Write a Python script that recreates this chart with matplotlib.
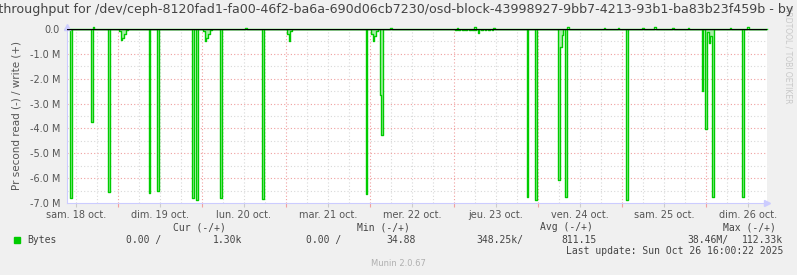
import matplotlib
matplotlib.use("Agg")
import matplotlib.pyplot as plt
import numpy as np

# days counted from sam. 18 oct. 00:00
read_days = [0.437, 0.685, 0.887,
             1.030, 1.040, 1.060, 1.077, 1.095,
             1.369, 1.473, 1.905, 1.929,
             2.024, 2.042, 2.060, 2.077, 2.095,
             2.238, 2.726,
             3.017, 3.036, 3.054, 3.071,
             3.961, 4.024, 4.042, 4.060, 4.083, 4.119, 4.143,
             5.02, 5.06, 5.10, 5.14, 5.18, 5.22, 5.26, 5.289, 5.33, 5.37, 5.42, 5.46,
             5.877, 5.980, 6.243, 6.264, 6.286, 6.330,
             7.063, 7.968, 7.990, 8.02, 8.04, 8.06, 8.08, 8.437]
read_mb = [-6.78, -3.73, -6.57,
           -0.10, -0.45, -0.35, -0.20, -0.05,
           -6.61, -6.50, -6.78, -6.88,
           -0.10, -0.50, -0.35, -0.20, -0.05,
           -6.78, -6.82,
           -0.20, -0.50, -0.30, -0.10,
           -6.65, -0.20, -0.50, -0.30, -0.10, -2.67, -4.26,
           -0.06, -0.05, -0.04, -0.05, -0.06, -0.04, -0.05, -0.16, -0.05, -0.04, -0.06, -0.04,
           -6.76, -6.89, -6.09, -0.72, -0.25, -6.76,
           -6.89, -2.50, -4.04, -0.12, -0.55, -0.30, -6.76, -6.76]

write_days = [0.70, 2.52, 4.24, 5.05, 5.25, 5.48, 6.36, 6.80, 6.95, 7.25, 7.40, 7.60, 7.80, 8.30, 8.50]
write_mb = [0.08, 0.06, 0.05, 0.06, 0.07, 0.05, 0.08, 0.05, 0.06, 0.05, 0.07, 0.06, 0.05, 0.06, 0.10]

day_labels = ["sam. 18 oct.", "dim. 19 oct.", "lun. 20 oct.", "mar. 21 oct.",
              "mer. 22 oct.", "jeu. 23 oct.", "ven. 24 oct.", "sam. 25 oct.", "dim. 26 oct."]
y_ticks = [0, -1, -2, -3, -4, -5, -6, -7]

title = ("Disk throughput for /dev/ceph-8120fad1-fa00-46f2-ba6a-690d06cb7230/"
         "osd-block-43998927-9bb7-4213-93b1-ba83b23f459b - by week")

W, H = 797, 275
x0, x1 = 0.393, 0.393 + 700 / 84

# 30 minute samples
t = np.arange(np.floor(x0 * 48), np.ceil(x1 * 48) + 1) / 48
read = np.zeros(len(t))
write = np.zeros(len(t))
for d, v in zip(read_days, read_mb):
    read[int(round(d * 48 - t[0] * 48))] = v
for d, v in zip(write_days, write_mb):
    write[int(round(d * 48 - t[0] * 48))] = v

fig = plt.figure(figsize=(W / 100, H / 100), dpi=100, facecolor="#f0f0f0")
ax = fig.add_axes([67 / W, (H - 203) / H, 700 / W, 174 / H], facecolor="white")

# grid
for d in np.arange(0.5, 9, 0.25):
    if abs(d - round(d)) > 1e-6:
        ax.axvline(d, color="#d8d8d8", lw=0.8, ls=(0, (1, 2)), zorder=0)
for d in range(1, 9):
    ax.axvline(d, color="#f0a0a0", lw=0.8, ls=(0, (1, 2)), zorder=0)
for v in np.arange(-6.5, 0, 1.0):
    ax.axhline(v, color="#d8d8d8", lw=0.8, ls=(0, (1, 2)), zorder=0)
for v in y_ticks[1:-1]:
    ax.axhline(v, color="#f0a0a0", lw=0.8, ls=(0, (1, 2)), zorder=0)

ax.fill_between(t, read, 0, step="mid", color="#a8eea8", lw=0, zorder=1)
ax.plot(t, read, drawstyle="steps-mid", color="#00cc00", lw=1.0, zorder=2)
ax.plot(t, write, drawstyle="steps-mid", color="#00cc00", lw=1.0, zorder=2, clip_on=False)
ax.axhline(0, color="black", lw=1.0, zorder=3)

ax.set_xlim(x0, x1)
ax.set_ylim(-7, 0)

for s in ["top", "right"]:
    ax.spines[s].set_visible(False)
ax.spines["left"].set_color("#ccccff")
ax.spines["bottom"].set_color("#ccccff")
ax.spines["left"].set_linewidth(0.8)
ax.spines["bottom"].set_linewidth(0.8)
ax.plot([x1], [-7], marker=">", color="#ccccff", ms=4, clip_on=False)
ax.plot([x0], [0.08], marker="^", color="#ccccff", ms=4, clip_on=False)

ax.set_yticks(y_ticks)
ax.set_yticklabels(["0.0"] + ["%.1f M" % v for v in y_ticks[1:]])
ax.tick_params(axis="y", length=0, pad=5, labelsize=7, labelcolor="#555555")

ax.set_xticks(range(1, 9))
ax.set_xticklabels([""] * 8)
ax.tick_params(axis="x", which="major", length=3, color="#f0a0a0", width=0.8)
ax.set_xticks(np.arange(0.5, 9, 1.0), minor=True)
ax.set_xticklabels(day_labels, minor=True)
ax.tick_params(axis="x", which="minor", length=3, color="#cccccc", width=0.8,
               pad=2, labelsize=7, labelcolor="#555555")

ax.set_ylabel("Pr second read (-) / write (+)", fontsize=7.5, color="#555555", labelpad=6)

fig.text(0.5, 1 - 10 / H, title, ha="center", va="center", fontsize=9.1, color="#444444")
fig.text(788 / W, 1 - 55 / H, "RRDTOOL / TOBI OETIKER", rotation=270, ha="center",
         va="center", fontsize=5.5, color="#c8c8c8", zorder=0)

mono = dict(family="DejaVu Sans Mono", fontsize=7, color="#444444", va="center")
hy = 1 - 227.5 / H
ry = 1 - 240 / H
for x, s in [(173, "Cur (-/+)"), (357, "Min (-/+)"), (540, "Avg (-/+)"), (723, "Max (-/+)")]:
    fig.text(x / W, hy, s, ha="left", **mono)
fig.patches.append(plt.Rectangle((14 / W, 1 - 242.5 / H), 5.5 / W, 5.5 / H,
                                 transform=fig.transFigure, color="#00cc00"))
fig.text(27 / W, ry, "Bytes", ha="left", **mono)
fig.text(126 / W, ry, "0.00 /", ha="left", **mono)
fig.text(242 / W, ry, "1.30k", ha="right", **mono)
fig.text(306 / W, ry, "0.00 /", ha="left", **mono)
fig.text(416 / W, ry, "34.88", ha="right", **mono)
fig.text(523 / W, ry, "348.25k/", ha="right", **mono)
fig.text(597 / W, ry, "811.15", ha="right", **mono)
fig.text(728 / W, ry, "38.46M/", ha="right", **mono)
fig.text(783 / W, ry, "112.33k", ha="right", **mono)
fig.text(783 / W, 1 - 251.5 / H, "Last update: Sun Oct 26 16:00:22 2025", ha="right", **mono)
fig.text(398 / W, 1 - 264 / H, "Munin 2.0.67", ha="center", va="center",
         fontsize=6, color="#b0b0b0")

fig.savefig("out.png", dpi=100, facecolor=fig.get_facecolor())
